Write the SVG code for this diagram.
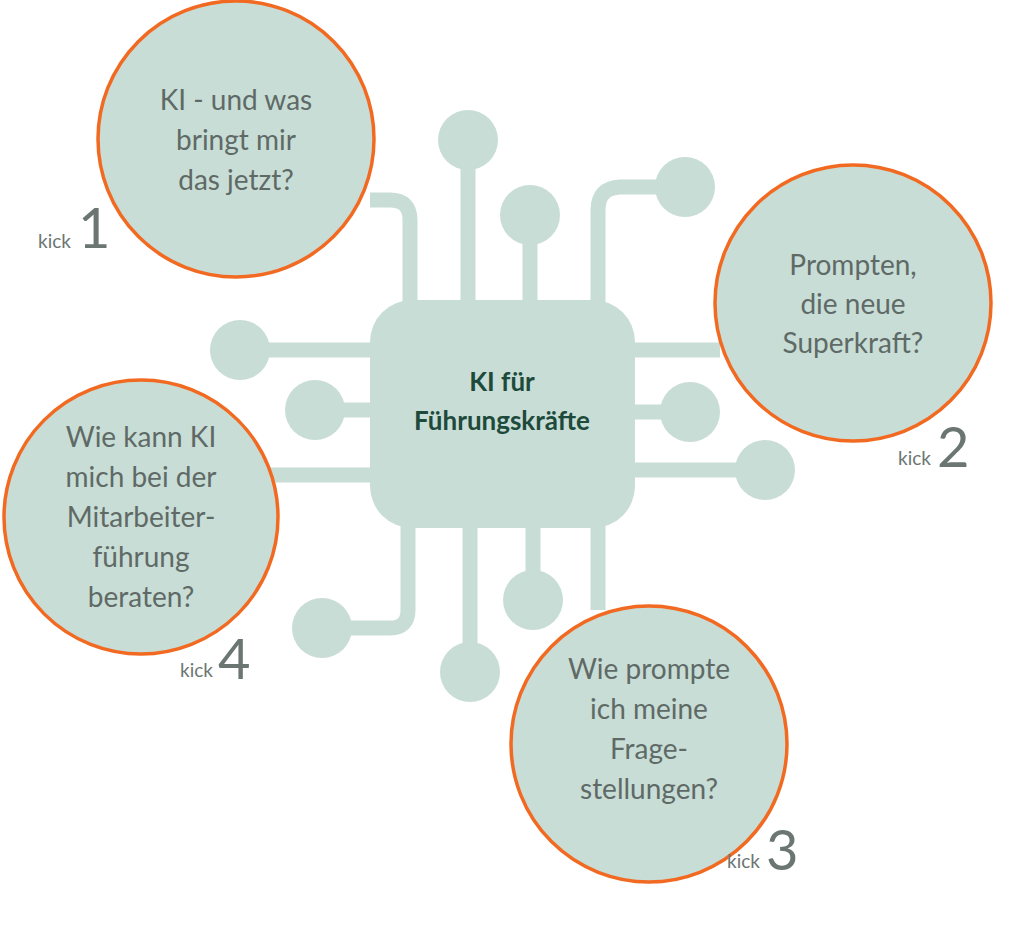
<svg xmlns="http://www.w3.org/2000/svg" width="1024" height="936" viewBox="0 0 1024 936">
<style>
.tr{fill:none;stroke:#c8ddd6;stroke-width:15}
.nd{fill:#c8ddd6}
.bub{fill:#c8ddd6;stroke:#f26a21;stroke-width:3.5}
.t{font-family:Lato,"Open Sans",sans-serif;font-size:28px;fill:#5f6a66;text-anchor:middle}
.k{font-family:Lato,"Open Sans",sans-serif;font-size:19px;fill:#6b7672}
.n{font-family:Lato,"Open Sans",sans-serif;font-size:56px;fill:#6b7672}
</style>
<rect width="1024" height="936" fill="#fff"/>
<g id="connectors">
<path class="tr" d="M370 200 H390 Q410 200 410 220 V305"/>
<path class="tr" d="M468 140 V305"/>
<path class="tr" d="M530 215 V305"/>
<path class="tr" d="M598 305 V210 Q598 188 620 187 H685"/>
<path class="tr" d="M240 350 H375"/>
<path class="tr" d="M315 410 H375"/>
<path class="tr" d="M270 475 H375"/>
<path class="tr" d="M630 350 H720"/>
<path class="tr" d="M630 412 H690"/>
<path class="tr" d="M630 470 H765"/>
<path class="tr" d="M408 525 V610 Q408 628 390 628 H322"/>
<path class="tr" d="M470 525 V672"/>
<path class="tr" d="M533 525 V600"/>
<path class="tr" d="M598 525 V610"/>
<circle class="nd" cx="468" cy="140" r="30"/>
<circle class="nd" cx="530" cy="215" r="30"/>
<circle class="nd" cx="685" cy="187" r="30"/>
<circle class="nd" cx="240" cy="350" r="30"/>
<circle class="nd" cx="315" cy="410" r="30"/>
<circle class="nd" cx="690" cy="412" r="30"/>
<circle class="nd" cx="765" cy="470" r="30"/>
<circle class="nd" cx="322" cy="628" r="30"/>
<circle class="nd" cx="470" cy="672" r="30"/>
<circle class="nd" cx="533" cy="600" r="30"/>
</g>
<g id="chip">
<rect x="370" y="300" width="265" height="228" rx="42" fill="#c8ddd6"/>
<text x="502" y="391" text-anchor="middle" font-family="Lato,'Open Sans',sans-serif" font-weight="bold" font-size="26" fill="#1d4a3b">KI für</text>
<text x="502" y="430" text-anchor="middle" font-family="Lato,'Open Sans',sans-serif" font-weight="bold" font-size="26" fill="#1d4a3b">Führungskräfte</text>
</g>
<g id="kick1">
<circle class="bub" cx="236" cy="139" r="138"/>
<text class="t" x="236" y="110">KI - und was</text>
<text class="t" x="236" y="150">bringt mir</text>
<text class="t" x="236" y="190">das jetzt?</text>
<text class="k" x="38" y="248">kick</text><text class="n" x="78" y="248">1</text>
</g>
<g id="kick2">
<circle class="bub" cx="853" cy="303" r="138"/>
<text class="t" x="853" y="275">Prompten,</text>
<text class="t" x="853" y="314">die neue</text>
<text class="t" x="853" y="353">Superkraft?</text>
<text class="k" x="898" y="465">kick</text><text class="n" x="937" y="467">2</text>
</g>
<g id="kick3">
<circle class="bub" cx="649" cy="744" r="138"/>
<text class="t" x="649" y="679">Wie prompte</text>
<text class="t" x="649" y="719">ich meine</text>
<text class="t" x="649" y="759">Frage-</text>
<text class="t" x="649" y="799">stellungen?</text>
<text class="k" x="727" y="868">kick</text><text class="n" x="766" y="870">3</text>
</g>
<g id="kick4">
<circle class="bub" cx="141" cy="517" r="137"/>
<text class="t" x="141" y="447">Wie kann KI</text>
<text class="t" x="141" y="487">mich bei der</text>
<text class="t" x="141" y="527">Mitarbeiter-</text>
<text class="t" x="141" y="567">führung</text>
<text class="t" x="141" y="607">beraten?</text>
<text class="k" x="180" y="677">kick</text><text class="n" x="218" y="679">4</text>
</g>
</svg>
